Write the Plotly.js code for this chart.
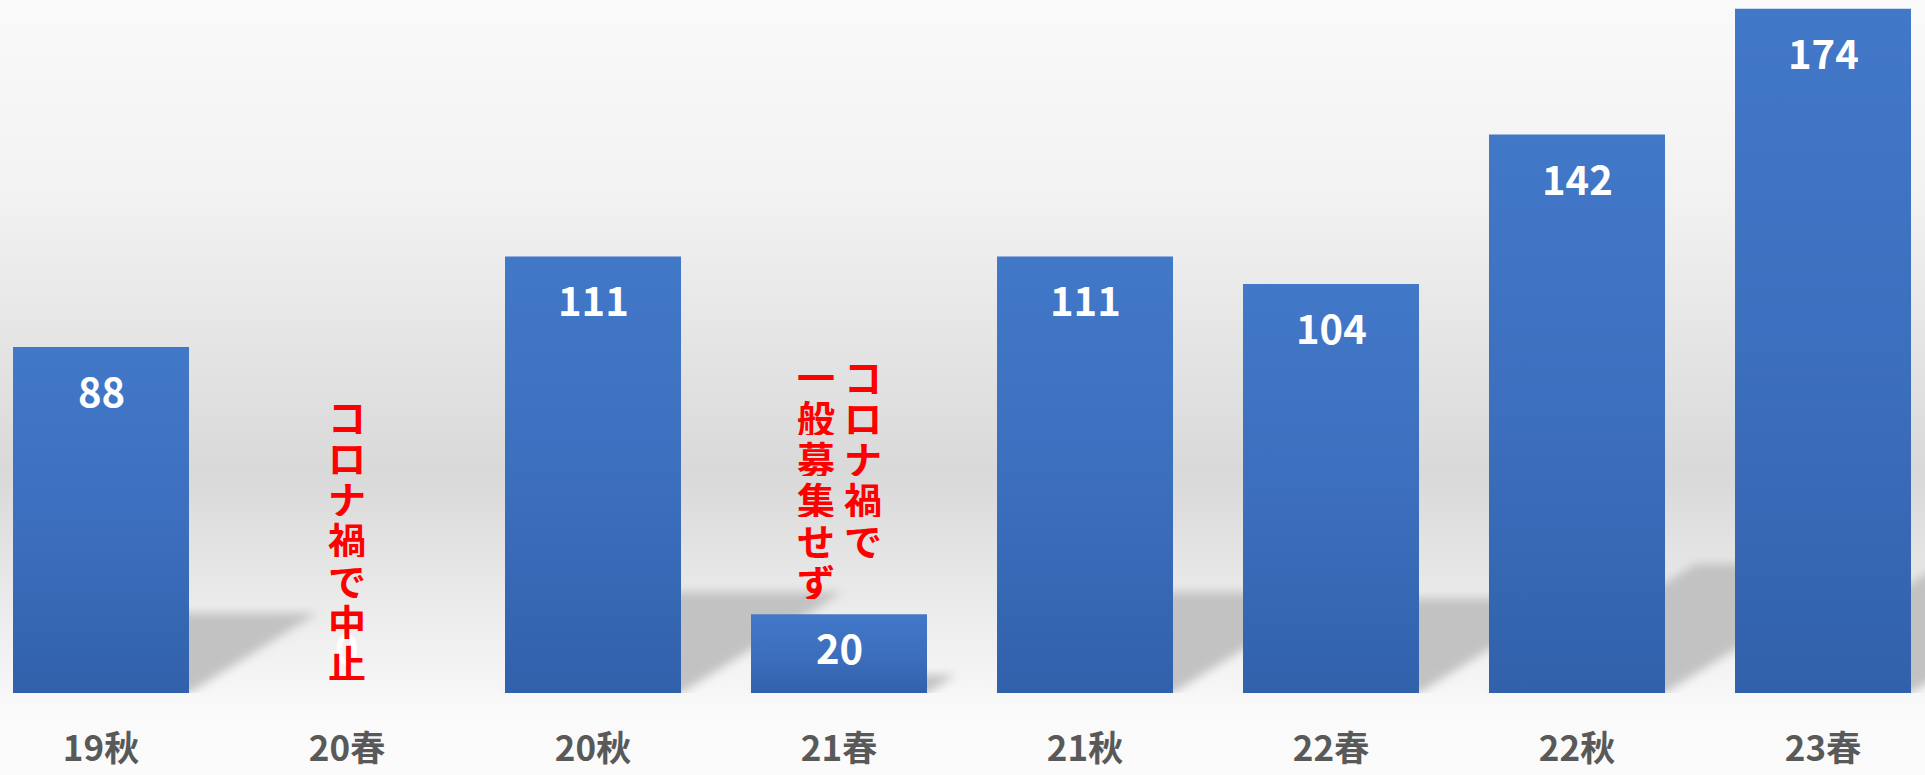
<!DOCTYPE html>
<html>
<head>
<meta charset="utf-8">
<script src="https://cdn.plot.ly/plotly-3.0.1.min.js"></script>
<style>
  html, body { margin: 0; padding: 0; }
  body {
    width: 1925px; height: 775px; overflow: hidden;
    background: linear-gradient(to bottom, #fafafa 0%, #f2f2f2 25%, #d9d9d9 61%, #f3f3f3 86%, #fafafa 92%, #fbfbfb 100%);
  }
  #chart { width: 1925px; height: 775px; }
</style>
</head>
<body>
<div id="chart"></div>
<script>
// ---- data ----
const categories = ['19秋', '20春', '20秋', '21春', '21秋', '22春', '22秋', '23春'];
const applicants = [88, 0, 111, 20, 111, 104, 142, 174];
const noteCategories = ['20春', '21春'];
// vertical text columns, listed right-to-left
const noteColumns = [['コロナ禍で中止'], ['コロナ禍で', '一般募集せず']];

// ---- style ----
const FONT = "'Noto Sans CJK JP', 'Noto Sans', sans-serif";
const noteTopY = [70.7, 80.8];      // y (data units) of first character centre
const charPitch = 41;               // px between vertical characters
const colPitch = 47;                // px between vertical columns
const idx = categories.map((_, i) => i);

const annotations = [];
applicants.forEach((v, i) => {
  annotations.push({
    x: i, y: Math.max(v - 10.93, 11.69), xref: 'x', yref: 'y',
    text: String(v), showarrow: false, yanchor: 'middle',
    font: {family: FONT, size: 40, color: '#ffffff', weight: 'bold'}
  });
});
noteCategories.forEach((cat, n) => {
  const ci = categories.indexOf(cat);
  const cols = noteColumns[n];
  cols.forEach((col, k) => {
    const xs = (cols.length - 1) * colPitch / 2 - k * colPitch;
    Array.from(col).forEach((ch, j) => {
      annotations.push({
        x: ci, y: noteTopY[n], xref: 'x', yref: 'y',
        xshift: xs, yshift: -j * charPitch,
        text: ch, showarrow: false, xanchor: 'center', yanchor: 'middle',
        height: charPitch - 3, width: 40, borderpad: 0,
        font: {family: FONT, size: 38, color: '#ff0000', weight: 'bold'}
      });
    });
  });
});

// soft floor shadows behind each bar (derived from the bar value)
const halfW = (1 - 0.2846) / 2;
const shapes = [];
applicants.forEach((v, i) => {
  if (v <= 0) return;
  const h = 0.2313 * v;          // shadow height in y units
  const dx = 0.005919 * v;       // skew in x units
  const x0 = i - halfW, x1 = i + halfW;
  shapes.push({
    type: 'path', xref: 'x', yref: 'y', layer: 'below',
    path: `M ${x0},0 L ${x1},0 L ${x1 + dx},${h} L ${x0 + dx},${h} Z`,
    fillcolor: '#c2c2c2', line: {width: 0}
  });
});

const trace = {
  type: 'bar', x: idx, y: applicants,
  marker: {color: '#3b6cbb', line: {width: 0}},
  hoverinfo: 'none', textposition: 'none'
};

const layout = {
  width: 1925, height: 775,
  margin: {l: 0, r: 0, t: 0, b: 82, pad: 0},
  paper_bgcolor: 'rgba(0,0,0,0)', plot_bgcolor: 'rgba(0,0,0,0)',
  bargap: 0.2846, showlegend: false,
  xaxis: {
    type: 'linear', range: [-0.4106, 7.4146],
    tickmode: 'array', tickvals: idx, ticktext: categories,
    showgrid: false, zeroline: false, showline: false, ticks: '',
    ticklabelstandoff: 32,
    tickfont: {family: FONT, size: 35, color: '#595959', weight: 'bold'}
  },
  yaxis: {
    range: [0, 176.2], visible: false, showgrid: false, zeroline: false
  },
  shapes: shapes,
  annotations: annotations
};

Plotly.newPlot('chart', [trace], layout, {displayModeBar: false, staticPlot: true}).then(gd => {
  const NS = 'http://www.w3.org/2000/svg';
  const svg = gd.querySelector('svg.main-svg');
  let defs = svg.querySelector('defs');
  if (!defs) { defs = document.createElementNS(NS, 'defs'); svg.insertBefore(defs, svg.firstChild); }
  const grad = document.createElementNS(NS, 'linearGradient');
  grad.setAttribute('id', 'bargrad');
  grad.setAttribute('x1', '0'); grad.setAttribute('y1', '0');
  grad.setAttribute('x2', '0'); grad.setAttribute('y2', '1');
  [['0', '#4278c8'], ['0.5', '#3c6fbe'], ['1', '#3161ab']].forEach(([o, c]) => {
    const s = document.createElementNS(NS, 'stop');
    s.setAttribute('offset', o); s.setAttribute('stop-color', c);
    grad.appendChild(s);
  });
  defs.appendChild(grad);
  const filt = document.createElementNS(NS, 'filter');
  filt.setAttribute('id', 'shblur');
  filt.setAttribute('x', '-50%'); filt.setAttribute('y', '-50%');
  filt.setAttribute('width', '200%'); filt.setAttribute('height', '200%');
  const blur = document.createElementNS(NS, 'feGaussianBlur');
  blur.setAttribute('stdDeviation', '5');
  filt.appendChild(blur);
  defs.appendChild(filt);
  gd.querySelectorAll('.bars .point path').forEach(p => { p.style.fill = 'url(#bargrad)'; });
  gd.querySelectorAll('.shapelayer path').forEach(p => { p.setAttribute('filter', 'url(#shblur)'); });
});
</script>
</body>
</html>
